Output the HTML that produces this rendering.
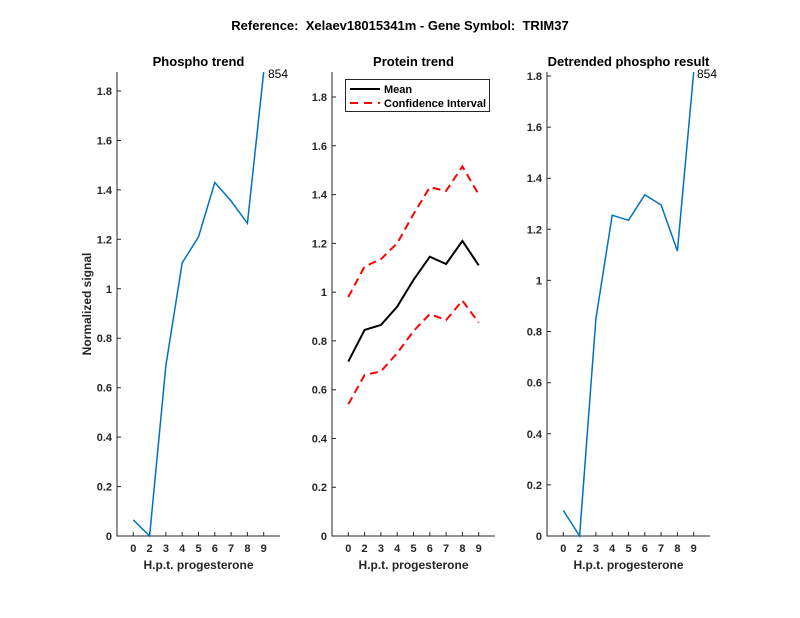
<!DOCTYPE html>
<html><head><style>body{margin:0;background:#fff}svg{display:block}text{font-family:"Liberation Sans",sans-serif}</style></head>
<body>
<svg width="800" height="618" viewBox="0 0 800 618">
<rect width="800" height="618" fill="#fff"/>
<text x="400" y="30" text-anchor="middle" font-size="13" font-weight="bold" fill="#000" style="white-space:pre">Reference:  Xelaev18015341m - Gene Symbol:  TRIM37</text>
<g stroke="#262626" stroke-width="1" fill="none">
<path d="M117,72V536H280"/>
<path d="M117,536h4M117,486.6h4M117,437.1h4M117,387.7h4M117,338.2h4M117,288.8h4M117,239.3h4M117,189.9h4M117,140.5h4M117,91h4"/>
<path d="M133.3,536v-4M149.6,536v-4M165.9,536v-4M182.2,536v-4M198.5,536v-4M214.8,536v-4M231.1,536v-4M247.4,536v-4M263.7,536v-4"/>
<path d="M332,72V536H495"/>
<path d="M332,536h4M332,487.2h4M332,438.5h4M332,389.7h4M332,340.9h4M332,292.1h4M332,243.4h4M332,194.6h4M332,145.8h4M332,97h4"/>
<path d="M348.3,536v-4M364.6,536v-4M380.9,536v-4M397.2,536v-4M413.5,536v-4M429.8,536v-4M446.1,536v-4M462.4,536v-4M478.7,536v-4"/>
<path d="M547,72V536H710"/>
<path d="M547,536h4M547,484.9h4M547,433.8h4M547,382.7h4M547,331.5h4M547,280.4h4M547,229.3h4M547,178.2h4M547,127.1h4M547,76h4"/>
<path d="M563.3,536v-4M579.6,536v-4M595.9,536v-4M612.2,536v-4M628.5,536v-4M644.8,536v-4M661.1,536v-4M677.4,536v-4M693.7,536v-4"/>
</g>
<g font-size="11" font-weight="bold" fill="#262626">
<g text-anchor="end">
<text x="112" y="540">0</text><text x="112" y="490.6">0.2</text><text x="112" y="441.1">0.4</text><text x="112" y="391.7">0.6</text><text x="112" y="342.2">0.8</text><text x="112" y="292.8">1</text><text x="112" y="243.3">1.2</text><text x="112" y="193.9">1.4</text><text x="112" y="144.5">1.6</text><text x="112" y="95">1.8</text>
<text x="327" y="540">0</text><text x="327" y="491.2">0.2</text><text x="327" y="442.5">0.4</text><text x="327" y="393.7">0.6</text><text x="327" y="344.9">0.8</text><text x="327" y="296.1">1</text><text x="327" y="247.4">1.2</text><text x="327" y="198.6">1.4</text><text x="327" y="149.8">1.6</text><text x="327" y="101">1.8</text>
<text x="542" y="540">0</text><text x="542" y="488.9">0.2</text><text x="542" y="437.8">0.4</text><text x="542" y="386.7">0.6</text><text x="542" y="335.5">0.8</text><text x="542" y="284.4">1</text><text x="542" y="233.3">1.2</text><text x="542" y="182.2">1.4</text><text x="542" y="131.1">1.6</text><text x="542" y="80">1.8</text>
</g>
<g text-anchor="middle">
<text x="133.3" y="552">0</text><text x="149.6" y="552">2</text><text x="165.9" y="552">3</text><text x="182.2" y="552">4</text><text x="198.5" y="552">5</text><text x="214.8" y="552">6</text><text x="231.1" y="552">7</text><text x="247.4" y="552">8</text><text x="263.7" y="552">9</text>
<text x="348.3" y="552">0</text><text x="364.6" y="552">2</text><text x="380.9" y="552">3</text><text x="397.2" y="552">4</text><text x="413.5" y="552">5</text><text x="429.8" y="552">6</text><text x="446.1" y="552">7</text><text x="462.4" y="552">8</text><text x="478.7" y="552">9</text>
<text x="563.3" y="552">0</text><text x="579.6" y="552">2</text><text x="595.9" y="552">3</text><text x="612.2" y="552">4</text><text x="628.5" y="552">5</text><text x="644.8" y="552">6</text><text x="661.1" y="552">7</text><text x="677.4" y="552">8</text><text x="693.7" y="552">9</text>
</g>
</g>
<g font-size="12" font-weight="bold" fill="#262626" text-anchor="middle">
<text x="198.5" y="569">H.p.t. progesterone</text>
<text x="413.5" y="569">H.p.t. progesterone</text>
<text x="628.5" y="569">H.p.t. progesterone</text>
<text transform="translate(91,304) rotate(-90)">Normalized signal</text>
</g>
<g font-size="13" font-weight="bold" fill="#000" text-anchor="middle">
<text x="198.5" y="66">Phospho trend</text>
<text x="413.5" y="66">Protein trend</text>
<text x="628.5" y="66">Detrended phospho result</text>
</g>
<polyline fill="none" stroke="#0072BD" stroke-width="1.5" points="133.3,519.9 149.6,536 165.9,365.4 182.2,262.8 198.5,236.9 214.8,182.5 231.1,201 247.4,223.3 263.7,72"/>
<text x="268" y="78" font-size="12" fill="#000">854</text>
<polyline fill="none" stroke="#0072BD" stroke-width="1.5" points="563.3,510.4 579.6,536 595.9,318.7 612.2,215.2 628.5,220.3 644.8,194.8 661.1,205 677.4,251 693.7,72.1"/>
<text x="697" y="78" font-size="12" fill="#000">854</text>
<polyline fill="none" stroke="#000" stroke-width="2" points="348.3,361.6 364.6,329.9 380.9,325 397.2,306.7 413.5,279.9 429.8,256.7 446.1,264 462.4,240.9 478.7,265.3"/>
<polyline fill="none" stroke="#f00" stroke-width="2" stroke-dasharray="8,5" points="348.3,297 364.6,266.5 380.9,259.2 397.2,243.3 413.5,214.1 429.8,187.2 446.1,190.9 462.4,166.5 478.7,194.5"/>
<polyline fill="none" stroke="#f00" stroke-width="2" stroke-dasharray="8,5" points="348.3,404.3 364.6,375 380.9,371.4 397.2,353.1 413.5,331.1 429.8,314.1 446.1,320.1 462.4,300.6 478.7,322.6"/>
<rect x="345.5" y="79.5" width="144" height="32" fill="#fff" stroke="#262626" stroke-width="1"/>
<line x1="350" y1="89" x2="380" y2="89" stroke="#000" stroke-width="2"/>
<line x1="350" y1="103" x2="380" y2="103" stroke="#f00" stroke-width="2" stroke-dasharray="8,6"/>
<text x="384" y="93" font-size="11" font-weight="bold" fill="#000">Mean</text>
<text x="384" y="107" font-size="11" font-weight="bold" fill="#000">Confidence Interval</text>
</svg>
</body></html>
